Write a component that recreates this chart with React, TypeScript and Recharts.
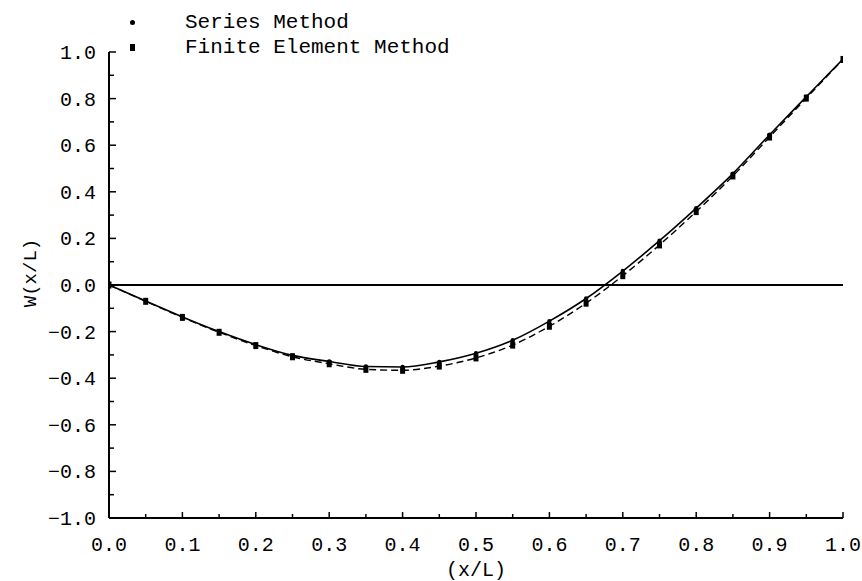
import React from 'react';
import { LineChart, Line, XAxis, YAxis, ReferenceLine } from 'recharts';

const xValues = [0, 0.05, 0.1, 0.15, 0.2, 0.25, 0.3, 0.35, 0.4, 0.45, 0.5, 0.55, 0.6, 0.65, 0.7, 0.75, 0.8, 0.85, 0.9, 0.95, 1.0];
const seriesMethod = [0, -0.069, -0.137, -0.2, -0.256, -0.302, -0.328, -0.35, -0.352, -0.33, -0.293, -0.237, -0.155, -0.058, 0.06, 0.19, 0.33, 0.478, 0.645, 0.808, 0.97];
const finiteElement = [0, -0.07, -0.139, -0.203, -0.26, -0.308, -0.338, -0.362, -0.366, -0.348, -0.313, -0.258, -0.177, -0.078, 0.04, 0.172, 0.315, 0.468, 0.635, 0.802, 0.968];

const xTicks = [0, 0.05, 0.1, 0.15, 0.2, 0.25, 0.3, 0.35, 0.4, 0.45, 0.5, 0.55, 0.6, 0.65, 0.7, 0.75, 0.8, 0.85, 0.9, 0.95, 1.0];
const yTicks = [-1, -0.9, -0.8, -0.7, -0.6, -0.5, -0.4, -0.3, -0.2, -0.1, 0, 0.1, 0.2, 0.3, 0.4, 0.5, 0.6, 0.7, 0.8, 0.9, 1.0];

const seriesNames = ['Series Method', 'Finite Element Method'];
const xLabel = '(x/L)';
const yLabel = 'W(x/L)';

const data = xValues.map((x, i) => ({ x, series: seriesMethod[i], fem: finiteElement[i] }));

const FONT = '"Liberation Mono", "DejaVu Sans Mono", monospace';

const isMajorX = (v: number) => Math.round(v * 100) % 10 === 0;
const isMajorY = (v: number) => Math.round(v * 10) % 2 === 0;

const fmtY = (v: number) => {
  const s = Math.abs(v).toFixed(1);
  return v < -0.001 ? '\u2212' + s : s;
};

const XTick = (props: any) => {
  const { x, y, payload } = props;
  const v = payload.value as number;
  const major = isMajorX(v);
  return (
    <g>
      <line x1={x} y1={y} x2={x} y2={y - (major ? 6 : 4)} stroke="#000" strokeWidth={1.5} />
      {major && (
        <text x={x} y={y + 33} textAnchor="middle" fontFamily={FONT} fontSize={20} fill="#000">
          {v.toFixed(1)}
        </text>
      )}
    </g>
  );
};

const YTick = (props: any) => {
  const { x, y, payload } = props;
  const v = payload.value as number;
  const major = isMajorY(v);
  return (
    <g>
      <line x1={x} y1={y} x2={x + (major ? 7 : 5)} y2={y} stroke="#000" strokeWidth={1.5} />
      {major && (
        <text x={x - 13} y={y + 7} textAnchor="end" fontFamily={FONT} fontSize={20} fill="#000">
          {fmtY(v)}
        </text>
      )}
    </g>
  );
};

const SquareDot = (props: any) => {
  const { cx, cy, index } = props;
  if (cx == null || cy == null) return <g key={index} />;
  return <rect key={index} x={cx - 2.5} y={cy - 3.5} width={5} height={7} fill="#000" />;
};

export default function App() {
  return (
    <div style={{ position: 'absolute', left: 0, top: 0, width: 862, height: 581, background: '#fff' }}>
      <LineChart width={862} height={581} data={data} margin={{ top: 52, right: 19, left: 0, bottom: 0 }}>
        <XAxis
          type="number"
          dataKey="x"
          domain={[0, 1]}
          ticks={xTicks}
          interval={0}
          tickSize={0}
          tickMargin={0}
          tickLine={false}
          tick={<XTick />}
          height={63}
          axisLine={{ stroke: '#000', strokeWidth: 2 }}
          allowDataOverflow
        />
        <YAxis
          type="number"
          domain={[-1, 1]}
          ticks={yTicks}
          interval={0}
          tickSize={0}
          tickMargin={0}
          tickLine={false}
          tick={<YTick />}
          width={109}
          axisLine={{ stroke: '#000', strokeWidth: 2 }}
          allowDataOverflow
        />
        <ReferenceLine y={0} stroke="#000" strokeWidth={2} />
        <Line
          type="monotone"
          dataKey="series"
          name={seriesNames[0]}
          stroke="#000"
          strokeWidth={1.6}
          dot={{ r: 2.2, fill: '#000', stroke: 'none' }}
          isAnimationActive={false}
        />
        <Line
          type="monotone"
          dataKey="fem"
          name={seriesNames[1]}
          stroke="#000"
          strokeWidth={1.4}
          strokeDasharray="7 4"
          dot={<SquareDot />}
          isAnimationActive={false}
        />
      </LineChart>
      <div style={{ position: 'absolute', left: 130, top: 10, fontFamily: FONT, fontSize: 21, color: '#000', lineHeight: '25px' }}>
        <div style={{ display: 'flex', alignItems: 'center' }}>
          <span style={{ display: 'inline-block', width: 5, height: 5, borderRadius: 3, background: '#000', marginRight: 50 }} />
          <span>{seriesNames[0]}</span>
        </div>
        <div style={{ display: 'flex', alignItems: 'center' }}>
          <span style={{ display: 'inline-block', width: 5, height: 7, background: '#000', marginRight: 50 }} />
          <span>{seriesNames[1]}</span>
        </div>
      </div>
      <div
        style={{
          position: 'absolute',
          left: 31,
          top: 273,
          transform: 'translate(-50%, -50%) rotate(-90deg)',
          fontFamily: FONT,
          fontSize: 19,
          whiteSpace: 'nowrap',
          color: '#000',
        }}
      >
        {yLabel}
      </div>
      <div
        style={{
          position: 'absolute',
          left: 476,
          top: 570,
          transform: 'translate(-50%, -50%)',
          fontFamily: FONT,
          fontSize: 20,
          whiteSpace: 'nowrap',
          color: '#000',
        }}
      >
        {xLabel}
      </div>
    </div>
  );
}
